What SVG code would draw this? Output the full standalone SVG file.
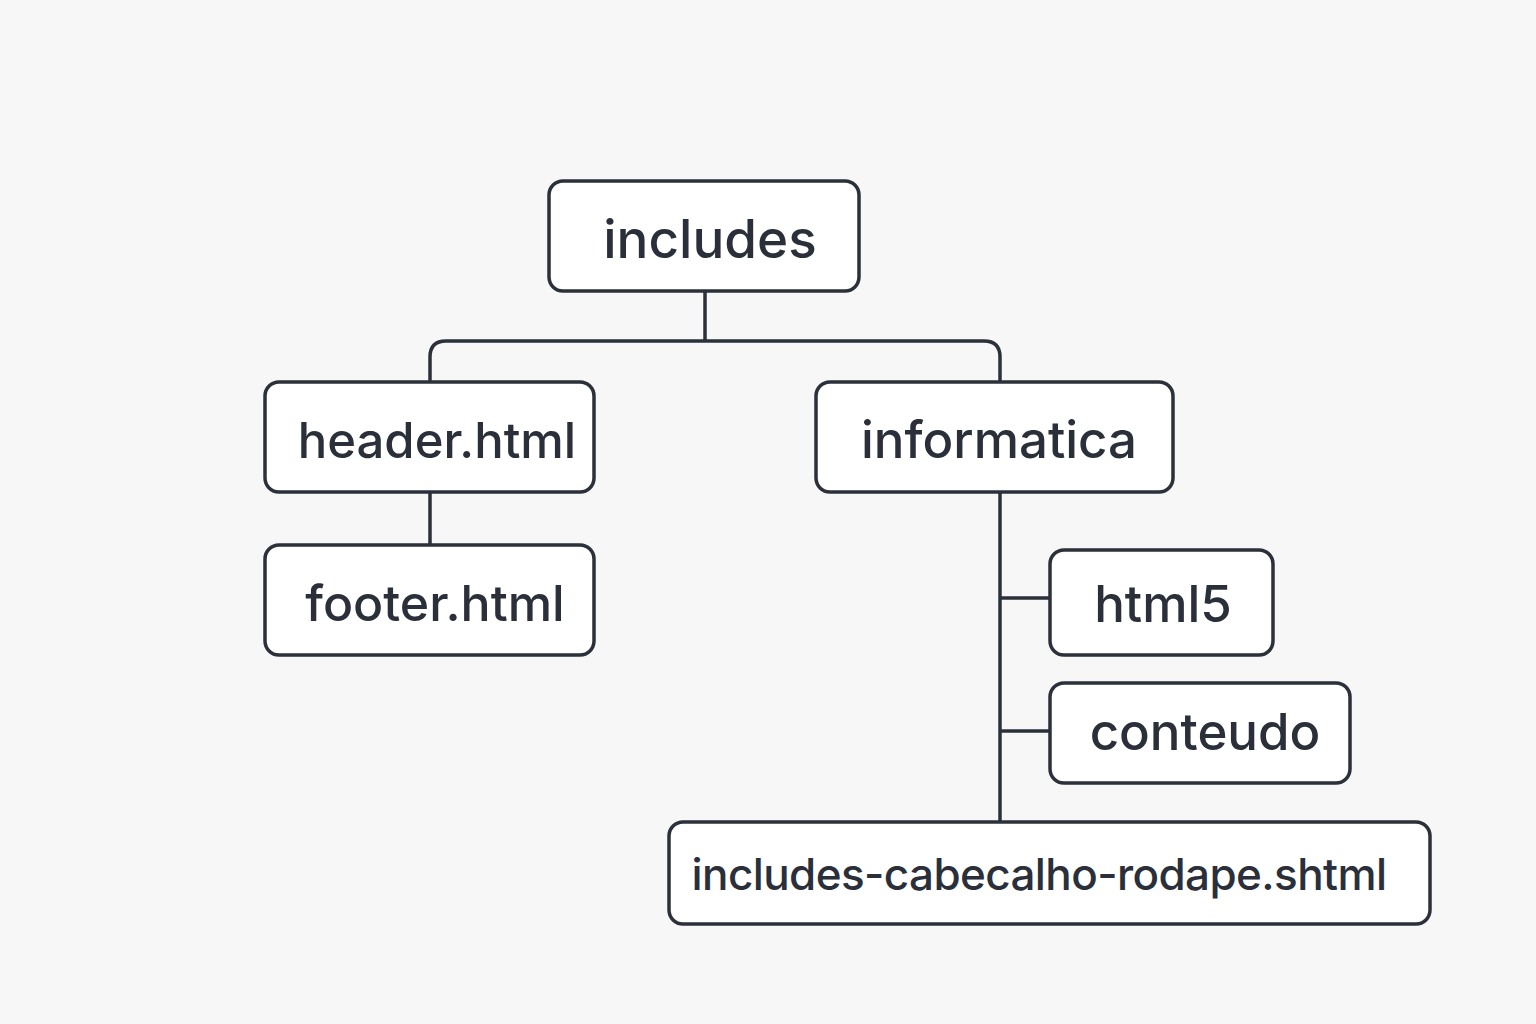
<svg xmlns="http://www.w3.org/2000/svg" width="1536" height="1024" viewBox="0 0 1536 1024">
<style>
.box{fill:#ffffff;stroke:#2b303a;stroke-width:3.5}
.lbl{font-family:Inter,"Liberation Sans",sans-serif;font-weight:500;fill:#2a2f3a;text-anchor:middle}
.wire{fill:none;stroke:#2b303a;stroke-width:3.5}
</style>
<rect width="1536" height="1024" fill="#f7f7f7"/>
<g id="connectors">
<path class="wire" d="M705 291V341"/>
<path class="wire" d="M430 382V357Q430 341 446 341H984Q1000 341 1000 357V382"/>
<path class="wire" d="M430 492V545"/>
<path class="wire" d="M1000 492V822"/>
<path class="wire" d="M1000 598H1050"/>
<path class="wire" d="M1000 731H1050"/>
</g>
<g id="node-includes">
<rect class="box" x="549" y="181" width="310" height="110" rx="14"/>
<text class="lbl" x="710" y="258" font-size="53">includes</text>
</g>
<g id="node-header">
<rect class="box" x="265" y="382" width="329" height="110" rx="14"/>
<text class="lbl" x="437" y="458" font-size="49">header.html</text>
</g>
<g id="node-footer">
<rect class="box" x="265" y="545" width="329" height="110" rx="14"/>
<text class="lbl" x="435" y="621" font-size="50">footer.html</text>
</g>
<g id="node-informatica">
<rect class="box" x="816" y="382" width="357" height="110" rx="14"/>
<text class="lbl" x="999" y="458" font-size="51">informatica</text>
</g>
<g id="node-html5">
<rect class="box" x="1050" y="550" width="223" height="105" rx="14"/>
<text class="lbl" x="1163" y="622" font-size="51">html5</text>
</g>
<g id="node-conteudo">
<rect class="box" x="1050" y="683" width="300" height="100" rx="14"/>
<text class="lbl" x="1205" y="750" font-size="51">conteudo</text>
</g>
<g id="node-shtml">
<rect class="box" x="669" y="822" width="761" height="102" rx="14"/>
<text class="lbl" x="1039" y="890" font-size="44" letter-spacing="-0.6">includes-cabecalho-rodape.shtml</text>
</g>
</svg>
